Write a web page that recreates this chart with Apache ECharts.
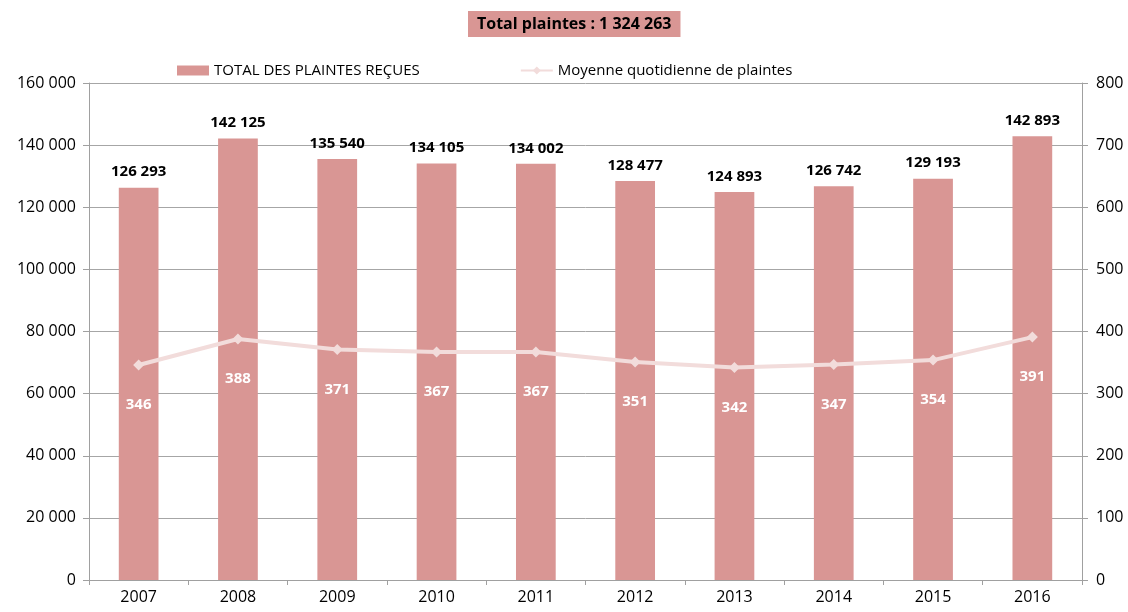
<!DOCTYPE html>
<html>
<head>
<meta charset="utf-8">
<script src="https://cdn.jsdelivr.net/npm/echarts@6/dist/echarts.min.js"></script>
<style>
  html, body { margin: 0; padding: 0; background: #fff; }
  #chart { width: 1128px; height: 612px; }
</style>
</head>
<body>
<div id="chart"></div>
<script>
const years = ["2007", "2008", "2009", "2010", "2011", "2012", "2013", "2014", "2015", "2016"];
const totalPlaintes = [126293, 142125, 135540, 134105, 134002, 128477, 124893, 126742, 129193, 142893];
const moyenneQuotidienne = [346, 388, 371, 367, 367, 351, 342, 347, 354, 391];

// espace comme séparateur de milliers
const fmt = (v) => String(v).replace(/\B(?=(\d{3})+(?!\d))/g, " ");

const chart = echarts.init(document.getElementById("chart"));
const font = "'Open Sans', 'Liberation Sans', sans-serif";

const option = {
  animation: false,
  textStyle: { fontFamily: font },
  title: {
    text: "Total plaintes : 1 324 263",
    left: 468,
    top: 11,
    padding: [5, 9],
    backgroundColor: "#d99694",
    textStyle: { fontSize: 16, fontWeight: "bold", color: "#000", fontFamily: font },
  },
  legend: {
    top: 58,
    left: 172,
    itemGap: 100,
    itemWidth: 32,
    itemHeight: 10,
    textStyle: { fontSize: 15, color: "#000", fontFamily: font },
    data: [
      { name: "TOTAL DES PLAINTES REÇUES", icon: "rect" },
      { name: "Moyenne quotidienne de plaintes" },
    ],
  },
  grid: { left: 89, right: 46, top: 83, bottom: 32 },
  xAxis: {
    type: "category",
    data: years,
    axisLine: { lineStyle: { color: "#a0a0a0", width: 1 } },
    axisTick: { show: true, interval: 0, length: 5, lineStyle: { color: "#a0a0a0" } },
    axisLabel: { color: "#000", fontSize: 16, margin: 9 },
  },
  yAxis: [
    {
      type: "value",
      min: 0,
      max: 160000,
      interval: 20000,
      axisLine: { show: true, lineStyle: { color: "#a0a0a0" } },
      axisTick: { show: true, length: 6, lineStyle: { color: "#a0a0a0" } },
      splitLine: { lineStyle: { color: "#a6a6a6" } },
      axisLabel: { color: "#000", fontSize: 16, margin: 13, formatter: fmt },
    },
    {
      type: "value",
      min: 0,
      max: 800,
      interval: 100,
      axisLine: { show: true, lineStyle: { color: "#a0a0a0" } },
      axisTick: { show: true, length: 6, lineStyle: { color: "#a0a0a0" } },
      splitLine: { show: false },
      axisLabel: { color: "#000", fontSize: 16, margin: 14 },
    },
  ],
  series: [
    {
      name: "TOTAL DES PLAINTES REÇUES",
      type: "bar",
      data: totalPlaintes,
      barWidth: "40%",
      itemStyle: { color: "#d99694" },
      label: {
        show: true,
        position: "top",
        distance: 8,
        color: "#000",
        fontWeight: "bold",
        fontSize: 15,
        formatter: (p) => fmt(p.value),
      },
    },
    {
      name: "Moyenne quotidienne de plaintes",
      type: "line",
      yAxisIndex: 1,
      data: moyenneQuotidienne,
      symbol: "diamond",
      symbolSize: 11,
      lineStyle: { color: "#f2dcdb", width: 4 },
      itemStyle: { color: "#f2dcdb" },
      label: {
        show: true,
        position: "bottom",
        distance: 27,
        color: "#fff",
        fontWeight: "bold",
        fontSize: 15,
      },
    },
  ],
};

chart.setOption(option);
</script>
</body>
</html>
